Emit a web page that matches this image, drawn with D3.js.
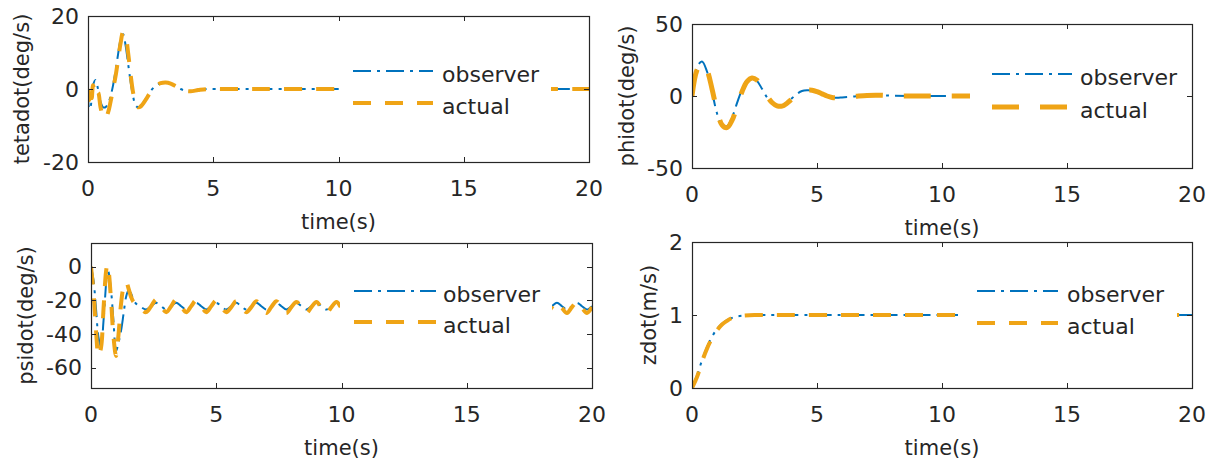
<!DOCTYPE html>
<html>
<head>
<meta charset="utf-8">
<script src="https://cdn.jsdelivr.net/npm/d3@7"></script>
<style>
  body { margin: 0; background: #fff; }
  text { font-family: "DejaVu Sans", "Liberation Sans", Arial, sans-serif; fill: #262626; }
</style>
</head>
<body>
<svg id="chart" width="1213" height="463"></svg>
<script>
// ---- data ----
var seriesNames = ['observer', 'actual'];
var timeTicks = [0, 5, 10, 15, 20];

// tetadot (deg/s)
var tetaT = [0, 0.05, 0.1, 0.15, 0.2, 0.3, 0.4, 0.5, 0.6, 0.7, 0.8, 0.9, 1.0, 1.1, 1.2, 1.3, 1.4, 1.5, 1.6, 1.7, 1.8, 1.9, 2.0, 2.1,
  2.3, 2.5, 2.7, 2.9, 3.1, 3.3, 3.5, 3.7, 3.9, 4.1, 4.4, 4.8, 5.5, 7, 10, 13, 16, 18.5, 20];
var tetaObserver = [0, -5.5, -5, -2, 1, 2.5, 0, -3.5, -5, -5, -4, -2, 1, 5, 9.5, 13.5, 15, 12, 7, 2, -2, -4.5, -5, -4.6,
  -2.8, -0.6, 0.9, 1.6, 1.8, 1.5, 0.8, 0, -0.5, -0.6, -0.3, 0, 0, 0, 0, 0, 0, 0, 0];
var tetaActual = [0, -3, 0.5, -2.5, 1, -2, -1, -5, -7.5, -8, -6.5, -3.5, 0, 3.5, 8, 12.5, 15.5, 14.5, 10, 4, -1, -4, -5, -4.8,
  -3, -0.8, 0.8, 1.6, 1.8, 1.5, 0.8, 0, -0.5, -0.6, -0.3, 0, 0, 0, 0, 0, 0, 0, 0];
var tetaTicks = [-20, 0, 20];

// phidot (deg/s)
var phiT = [0, 0.2, 0.4, 0.6, 0.8, 1.0, 1.2, 1.4, 1.6, 1.8, 2.0, 2.2, 2.4, 2.6, 2.8, 3.0, 3.2, 3.4, 3.6, 3.8, 4.0, 4.2, 4.4, 4.6, 4.8,
  5.0, 5.2, 5.4, 5.6, 5.8, 6.0, 6.5, 7, 7.5, 8, 9, 10, 12, 15, 18, 20];
var phiObserver = [0, 20, 24, 17, 3, -12, -20.5, -21, -15, -5, 4.5, 11, 13, 10.5, 5, -1, -5, -7, -6.5, -4.5, -1.5, 1.5, 3.5, 4, 3.8,
  2.8, 1.2, -0.2, -1, -1.2, -1, -0.3, 0.4, 0.5, 0.2, 0, 0, 0, 0, 0, 0];
var phiActual = [0, 18, 23, 18, 5, -10, -20, -22, -17, -7, 3, 10, 12.5, 11, 6, 0, -4.5, -6.8, -7, -5, -2, 1, 3.2, 4, 4,
  3, 1.5, 0, -1, -1.2, -1, -0.3, 0.4, 0.5, 0.2, 0, 0, 0, 0, 0, 0];
var phiTicks = [-50, 0, 50];

// psidot (deg/s)
var psiT = [0, 0.1, 0.2, 0.3, 0.4, 0.5, 0.6, 0.65, 0.7, 0.8, 0.9, 1.0, 1.1, 1.2, 1.3, 1.4, 1.5, 1.6, 1.7,
  1.8, 2.0, 2.2, 2.4,
  2.6, 2.8, 3.0, 3.2, 3.4, 3.6, 3.8, 4.0, 4.2, 4.4, 4.6, 4.8, 5.0, 5.2, 5.4, 5.6, 5.8, 6.0, 6.2, 6.4,
  6.6, 6.8, 7.0, 7.2, 7.4, 7.6, 7.8, 8.0, 8.2, 8.4, 8.6, 8.8, 9.0, 9.2, 9.4, 9.6, 9.8, 10.0, 10.2, 10.4,
  10.6, 10.8, 11.0, 11.2, 11.4, 11.6, 11.8, 12.0, 12.2, 12.4, 12.6, 12.8, 13.0, 13.2, 13.4, 13.6, 13.8, 14.0, 14.2, 14.4,
  14.6, 14.8, 15.0, 15.2, 15.4, 15.6, 15.8, 16.0, 16.2, 16.4, 16.6, 16.8, 17.0, 17.2, 17.4, 17.6, 17.8, 18.0, 18.2, 18.4,
  18.6, 18.8, 19.0, 19.2, 19.4, 19.6, 19.8, 20.0];
var psiObserver = [0, -8, -25, -42, -48, -32, -10, -1, -3, -14, -33, -50, -45, -38, -28, -18, -14, -16, -20,
  -22, -24, -25.5, -23.5,
  -21.5, -23.5, -25.5, -23.5, -21.5, -23.5, -25.5, -23.5, -21.5, -23.5, -25.5, -23.5, -21.5, -23.5, -25.5, -23.5, -21.5, -23.5, -25.5, -23.5,
  -21.5, -23.5, -25.5, -23.5, -21.5, -23.5, -25.5, -23.5, -21.5, -23.5, -25.5, -23.5, -21.5, -23.5, -25.5, -23.5, -21.5, -23.5, -25.5, -23.5,
  -21.5, -23.5, -25.5, -23.5, -21.5, -23.5, -25.5, -23.5, -21.5, -23.5, -25.5, -23.5, -21.5, -23.5, -25.5, -23.5, -21.5, -23.5, -25.5, -23.5,
  -21.5, -23.5, -25.5, -23.5, -21.5, -23.5, -25.5, -23.5, -21.5, -23.5, -25.5, -23.5, -21.5, -23.5, -25.5, -23.5, -21.5, -23.5, -25.5, -23.5,
  -21.5, -23.5, -25.5, -23.5, -21.5, -23.5, -25.5, -23.5];
var psiActual = [0, -15, -38, -53, -48, -25, -3, 1, -2, -20, -42, -53, -40, -22, -12, -9, -13, -18, -21,
  -22, -25, -27, -23.5,
  -19.5, -23.5, -27, -23.5, -19.5, -23.5, -27, -23.5, -20, -23.5, -27, -23.5, -20, -23.5, -27, -24, -20.5, -24, -27, -24,
  -20.5, -24, -27.5, -24, -20.5, -24, -27.5, -24, -21, -24, -27.5, -24, -21, -24.5, -27.5, -24, -21, -24.5, -27.5, -24,
  -21, -24.5, -27.5, -24, -21, -24.5, -27.5, -24, -21, -24.5, -27.5, -24, -21, -24.5, -27.5, -24, -21, -24.5, -27.5, -24,
  -21, -24.5, -27.5, -24, -21, -24.5, -27.5, -24, -21, -24.5, -27.5, -24, -21, -24.5, -27.5, -24, -21, -24.5, -27.5, -24,
  -21, -24.5, -27.5, -24, -21, -24.5, -27.5, -24];
var psiTicks = [-60, -40, -20, 0];

// zdot (m/s)
var zT = [0, 0.2, 0.4, 0.6, 0.8, 1.0, 1.2, 1.4, 1.6, 1.8, 2.0, 2.5, 3, 4, 6, 8, 10, 12, 15, 18, 20];
var zObserver = [0, 0.17, 0.38, 0.56, 0.7, 0.81, 0.88, 0.93, 0.96, 0.98, 0.99, 1, 1, 1, 1, 1, 1, 1, 1, 1, 1];
var zActual = [0, 0.15, 0.36, 0.54, 0.68, 0.79, 0.87, 0.92, 0.96, 0.98, 0.99, 1, 1, 1, 1, 1, 1, 1, 1, 1, 1];
var zTicks = [0, 1, 2];

// ---- layout ----
var blue = '#0072bd', orange = '#efa416', ink = '#262626';
var tickFont = 22, labelFont = 21;

var panels = [
  { label: 'tetadot(deg/s)', t: tetaT, obs: tetaObserver, act: tetaActual, yDomain: [-20, 20], yTicks: tetaTicks,
    box: [88, 16, 589, 162], ylabX: 22, actW: 4, actDash: '18,14',
    legend: { box: [340, 52, 551, 124], lineX: [353, 433], textX: 442, ys: [71, 103] } },
  { label: 'phidot(deg/s)', t: phiT, obs: phiObserver, act: phiActual, yDomain: [-50, 50], yTicks: phiTicks,
    box: [692, 24, 1192, 168], ylabX: 627, actW: 5, actDash: '27,21',
    legend: { box: [970, 55, 1190, 128], lineX: [992, 1072], textX: 1080, ys: [74, 107] } },
  { label: 'psidot(deg/s)', t: psiT, obs: psiObserver, act: psiActual, yDomain: [-72, 14], yTicks: psiTicks,
    box: [91, 243, 592, 388], ylabX: 26, actW: 4, actDash: '18,14',
    legend: { box: [340, 272, 552, 342], lineX: [354, 436], textX: 443, ys: [291, 322] } },
  { label: 'zdot(m/s)', t: zT, obs: zObserver, act: zActual, yDomain: [0, 2], yTicks: zTicks,
    box: [692, 242, 1192, 388], ylabX: 649, actW: 4, actDash: '18,14',
    legend: { box: [958, 272, 1177, 343], lineX: [977, 1058], textX: 1067, ys: [291, 323] } }
];

var svg = d3.select('#chart');
svg.append('rect').attr('width', 1213).attr('height', 463).attr('fill', '#fff');

panels.forEach(function (p, i) {
  var x0 = p.box[0], y0 = p.box[1], x1 = p.box[2], y1 = p.box[3];
  var x = d3.scaleLinear().domain([0, 20]).range([x0, x1]);
  var y = d3.scaleLinear().domain(p.yDomain).range([y1, y0]);

  svg.append('clipPath').attr('id', 'clip' + i)
    .append('rect').attr('x', x0).attr('y', y0).attr('width', x1 - x0).attr('height', y1 - y0);

  var line = d3.line()
    .x(function (d) { return x(d[0]); })
    .y(function (d) { return y(d[1]); })
    .curve(d3.curveCatmullRom.alpha(0.5));

  var g = svg.append('g').attr('clip-path', 'url(#clip' + i + ')');
  g.append('path')
    .datum(d3.zip(p.t, p.obs))
    .attr('d', line)
    .attr('fill', 'none')
    .attr('stroke', blue)
    .attr('stroke-width', 2)
    .attr('stroke-dasharray', '18,6,3,6');
  g.append('path')
    .datum(d3.zip(p.t, p.act))
    .attr('d', line)
    .attr('fill', 'none')
    .attr('stroke', orange)
    .attr('stroke-width', p.actW)
    .attr('stroke-dasharray', p.actDash);

  // legend (white box, no border)
  var L = p.legend;
  svg.append('rect')
    .attr('x', L.box[0]).attr('y', L.box[1])
    .attr('width', L.box[2] - L.box[0]).attr('height', L.box[3] - L.box[1])
    .attr('fill', '#fff');
  var styles = [
    { c: blue, w: 2, dash: '18,6,3,6' },
    { c: orange, w: p.actW, dash: p.actDash }
  ];
  seriesNames.forEach(function (name, k) {
    svg.append('line')
      .attr('x1', L.lineX[0]).attr('x2', L.lineX[1])
      .attr('y1', L.ys[k]).attr('y2', L.ys[k])
      .attr('stroke', styles[k].c)
      .attr('stroke-width', styles[k].w)
      .attr('stroke-dasharray', styles[k].dash);
    svg.append('text')
      .attr('x', L.textX).attr('y', L.ys[k] + 11)
      .attr('font-size', tickFont)
      .text(name);
  });

  // box
  svg.append('rect')
    .attr('x', x0 + 0.5).attr('y', y0 + 0.5)
    .attr('width', x1 - x0).attr('height', y1 - y0)
    .attr('fill', 'none').attr('stroke', ink).attr('stroke-width', 1.2);

  // x ticks, inward, top and bottom
  timeTicks.forEach(function (v) {
    var px = Math.round(x(v)) + 0.5;
    svg.append('line').attr('x1', px).attr('x2', px).attr('y1', y1).attr('y2', y1 - 5).attr('stroke', ink);
    svg.append('line').attr('x1', px).attr('x2', px).attr('y1', y0).attr('y2', y0 + 5).attr('stroke', ink);
    svg.append('text')
      .attr('x', x(v)).attr('y', y1 + 26)
      .attr('dy', '0.35em')
      .attr('text-anchor', 'middle')
      .attr('font-size', tickFont)
      .text(v);
  });

  // y ticks, inward, left and right
  p.yTicks.forEach(function (v) {
    var py = Math.round(y(v)) + 0.5;
    svg.append('line').attr('x1', x0).attr('x2', x0 + 5).attr('y1', py).attr('y2', py).attr('stroke', ink);
    svg.append('line').attr('x1', x1).attr('x2', x1 - 5).attr('y1', py).attr('y2', py).attr('stroke', ink);
    svg.append('text')
      .attr('x', x0 - 9).attr('y', y(v))
      .attr('dy', '0.35em')
      .attr('text-anchor', 'end')
      .attr('font-size', tickFont)
      .text(v);
  });

  // axis titles
  svg.append('text')
    .attr('x', (x0 + x1) / 2).attr('y', y1 + 60)
    .attr('dy', '0.35em')
    .attr('text-anchor', 'middle')
    .attr('font-size', labelFont)
    .text('time(s)');
  svg.append('text')
    .attr('transform', 'translate(' + p.ylabX + ',' + (y0 + y1) / 2 + ') rotate(-90)')
    .attr('dy', '0.35em')
    .attr('text-anchor', 'middle')
    .attr('font-size', labelFont)
    .text(p.label);
});
</script>
</body>
</html>
